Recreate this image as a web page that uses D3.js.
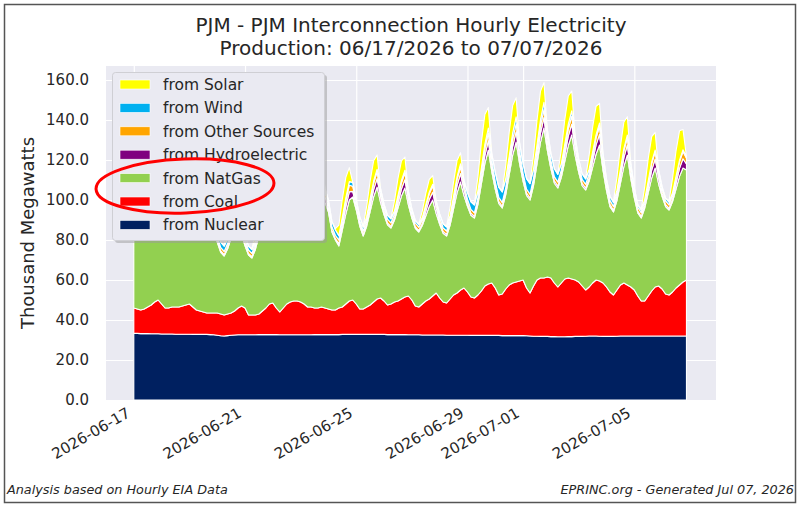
<!DOCTYPE html>
<html>
<head>
<meta charset="utf-8">
<script src="https://cdn.jsdelivr.net/npm/d3@7"></script>
<style>
body { margin: 0; background: #fff; }
text { font-family: "DejaVu Sans", sans-serif; fill: #262626; }
</style>
</head>
<body>
<svg id="chart" width="800" height="506"></svg>
<script>
// small stand-in for d3-selection-multi's .attrs()
d3.selection.prototype.attrs = function(o) {
  for (let k in o) this.attr(k, o[k])
  return this
}

// 3-hourly readings, 06/17 00:00 to 07/06 21:00, thousand MW (one row per day)
let nuclear = [
  33.3,33.3,33.2,33.2,33.2,33.1,33.1,33.1,
  33.0,33.0,33.0,33.0,32.9,32.9,32.9,32.9,
  32.9,32.8,32.8,32.8,32.8,32.8,32.7,32.6,
  32.4,32.1,32.0,32.2,32.4,32.5,32.6,32.6,
  32.6,32.6,32.6,32.6,32.7,32.7,32.7,32.7,
  32.7,32.7,32.6,32.6,32.6,32.6,32.6,32.6,
  32.6,32.6,32.6,32.6,32.7,32.7,32.7,32.7,
  32.7,32.7,32.7,32.7,32.8,32.8,32.8,32.8,
  32.8,32.8,32.8,32.8,32.8,32.8,32.8,32.8,
  32.8,32.7,32.7,32.7,32.7,32.7,32.7,32.6,
  32.6,32.6,32.6,32.5,32.5,32.5,32.5,32.5,
  32.5,32.5,32.4,32.4,32.4,32.4,32.4,32.4,
  32.4,32.3,32.3,32.3,32.3,32.3,32.3,32.3,
  32.3,32.3,32.2,32.2,32.2,32.2,32.2,32.2,
  32.2,32.1,32.0,31.9,31.9,31.8,31.8,31.8,
  31.7,31.7,31.6,31.6,31.6,31.7,31.7,31.8,
  31.8,31.8,31.9,32.0,32.0,32.0,31.9,31.8,
  31.8,31.8,31.8,31.9,32.0,32.0,32.0,32.0,
  32.0,32.0,32.0,32.0,32.0,32.0,32.0,32.0,
  32.0,32.0,32.0,32.0,32.0,32.0,32.0,32.0
]
let coal = [
  12.7,12.2,11.8,12.3,13.3,14.4,15.9,16.9,
  15.0,13.0,13.0,13.5,13.6,13.6,14.1,14.6,
  15.1,13.7,12.2,11.7,11.2,10.7,10.8,10.9,
  11.1,10.9,10.5,10.8,11.1,12.0,13.4,14.4,
  13.4,9.9,9.9,9.9,10.3,11.8,13.3,15.3,
  15.8,13.3,11.4,13.4,15.4,16.4,16.9,16.9,
  16.4,15.4,13.9,13.9,13.3,13.3,13.8,13.3,
  12.8,12.3,12.3,13.3,13.7,15.2,16.7,17.2,
  15.2,12.7,12.7,13.7,14.7,16.2,17.7,18.2,
  16.7,14.8,15.3,16.3,16.8,17.8,18.8,19.4,
  17.4,14.4,13.9,15.5,17.0,18.0,19.5,21.0,
  18.5,16.5,16.1,18.1,20.1,21.1,22.6,23.6,
  21.6,19.2,18.7,20.2,22.2,24.7,25.7,26.2,
  23.7,20.2,20.8,23.3,25.3,26.3,26.8,27.3,
  27.8,23.9,21.5,25.1,28.1,29.2,29.2,29.7,
  29.3,26.8,24.9,26.9,28.9,29.3,28.8,28.2,
  27.2,25.2,23.1,24.5,26.5,28.0,27.6,26.7,
  24.7,22.2,20.7,23.1,25.5,26.5,25.5,24.5,
  23.0,20.0,17.5,17.5,20.0,22.5,24.5,25.0,
  23.5,21.0,20.5,22.0,24.0,25.5,27.0,28.0
]
let natgas = [
  40.5,37.6,37.0,39.1,42.0,44.9,46.0,40.1,
  38.2,37.0,36.0,38.7,43.5,48.3,51.0,43.7,
  37.8,34.9,35.0,38.3,43.0,47.7,50.5,42.1,
  35.5,30.8,29.5,32.6,37.5,41.9,44.0,35.8,
  31.1,30.0,28.5,32.9,39.0,44.1,47.0,40.1,
  35.7,35.0,36.0,37.4,40.5,44.6,47.5,41.8,
  37.8,35.2,35.5,40.7,49.0,56.8,61.5,53.0,
  48.5,39.0,35.0,31.0,38.5,45.0,50.5,51.5,
  47.0,41.5,36.5,40.4,46.8,52.6,56.0,47.7,
  43.1,40.1,38.0,41.0,46.5,51.5,54.5,45.6,
  41.0,38.8,37.5,39.2,42.5,46.3,48.0,39.7,
  36.8,34.4,33.5,36.9,43.0,50.1,54.0,46.2,
  42.8,40.9,40.0,45.3,53.5,61.2,67.0,55.5,
  49.3,45.8,43.0,47.1,55.0,63.9,70.0,58.5,
  49.3,46.3,46.5,50.2,58.0,67.8,75.0,63.1,
  54.6,49.9,49.5,52.8,58.8,66.2,72.0,62.0,
  54.8,50.2,50.0,53.0,57.8,63.0,68.0,56.3,
  48.2,42.7,41.5,44.7,50.8,58.3,65.0,54.0,
  46.1,41.5,41.5,46.5,51.5,56.5,59.5,51.0,
  46.2,43.7,42.5,45.2,49.5,54.3,57.0,55.0
]
let hydro = [
  1.3,0.9,0.7,1.1,2.2,3.4,3.9,2.6,
  1.3,0.9,0.8,1.1,2.3,3.4,4.0,2.7,
  1.3,0.9,0.7,1.0,2.2,3.3,3.8,2.6,
  1.2,0.8,0.7,1.0,2.1,3.2,3.7,2.5,
  1.2,0.8,0.7,1.1,2.2,3.4,3.9,2.6,
  1.3,0.9,0.7,1.1,2.3,3.5,4.0,2.7,
  1.4,0.9,0.8,1.2,2.3,3.5,4.1,2.8,
  1.4,0.9,0.7,1.1,2.3,3.5,4.1,2.8,
  1.4,1.0,0.8,1.2,2.4,3.6,4.2,2.8,
  1.4,0.9,0.8,1.1,2.3,3.5,4.1,2.8,
  1.3,0.9,0.7,1.0,2.2,3.4,3.9,2.7,
  1.4,0.9,0.8,1.2,2.4,3.6,4.2,2.9,
  1.5,1.0,0.8,1.3,2.6,4.0,4.6,3.0,
  1.7,1.1,0.9,1.4,2.9,4.4,5.1,3.3,
  1.8,1.2,1.0,1.5,3.0,4.5,5.2,3.4,
  1.9,1.2,1.0,1.5,3.1,4.7,5.4,3.5,
  1.9,1.2,1.0,1.5,3.0,4.6,5.3,3.4,
  1.8,1.2,0.9,1.4,2.9,4.4,5.0,3.3,
  1.6,1.0,0.8,1.3,2.6,3.9,4.5,3.0,
  1.6,1.0,0.8,1.3,2.7,4.0,4.6,3.0
]
let other = [
  2.0,1.8,1.7,1.9,2.5,3.0,3.3,2.6,
  2.0,1.8,1.7,1.9,2.4,2.9,3.2,2.5,
  1.9,1.7,1.7,1.9,2.4,2.9,3.2,2.5,
  1.9,1.7,1.6,1.8,2.3,2.8,3.1,2.5,
  1.9,1.7,1.6,1.9,2.4,2.9,3.2,2.5,
  2.0,1.8,1.7,1.9,2.5,3.0,3.3,2.6,
  2.0,1.8,1.7,2.0,2.6,3.1,3.4,2.7,
  2.1,1.8,1.7,1.9,2.5,3.0,3.3,2.6,
  2.0,1.8,1.7,2.0,2.6,3.1,3.4,2.7,
  2.1,1.9,1.8,2.0,2.6,3.1,3.4,2.7,
  2.0,1.8,1.7,1.9,2.4,2.9,3.1,2.5,
  2.0,1.8,1.7,2.0,2.6,3.1,3.4,2.7,
  2.1,1.9,1.8,2.1,2.7,3.4,3.7,2.9,
  2.2,2.0,1.9,2.1,2.8,3.5,3.9,3.1,
  2.3,2.0,1.9,2.2,2.9,3.6,4.0,3.2,
  2.3,2.1,2.0,2.2,2.9,3.6,4.0,3.2,
  2.3,2.0,1.9,2.2,2.8,3.5,3.9,3.1,
  2.2,2.0,1.9,2.1,2.7,3.4,3.7,3.0,
  2.1,1.9,1.8,2.0,2.6,3.3,3.6,2.9,
  2.1,1.9,1.8,2.1,2.7,3.3,3.6,2.9
]
let wind = [
  1.8,2.0,2.0,1.7,1.4,1.2,1.4,1.5,
  1.8,1.9,2.0,1.6,1.3,1.2,1.3,1.6,
  2.2,2.3,2.3,2.0,1.6,1.4,1.6,1.8,
  2.4,2.6,2.6,2.2,1.8,1.6,1.8,1.9,
  1.8,2.0,1.9,1.6,1.3,1.2,1.4,1.4,
  1.4,1.5,1.6,1.3,1.1,1.0,1.1,1.2,
  1.5,1.6,1.5,1.3,1.1,1.0,1.1,1.4,
  2.4,2.6,2.7,2.2,1.8,1.6,1.8,1.9,
  1.8,2.0,1.9,1.7,1.4,1.2,1.3,1.5,
  1.8,1.9,2.0,1.6,1.3,1.2,1.4,1.4,
  1.2,1.3,1.3,1.1,0.9,0.8,0.9,1.1,
  1.8,2.0,2.0,1.7,1.4,1.3,1.5,1.9,
  3.3,3.8,3.9,3.3,2.7,2.4,2.7,3.3,
  4.6,5.0,5.2,4.4,3.6,3.2,3.6,4.2,
  4.8,5.2,5.3,4.5,3.6,3.2,3.6,3.8,
  3.6,3.9,3.8,3.2,2.7,2.4,2.7,2.8,
  2.5,2.6,2.6,2.2,1.8,1.6,1.8,1.9,
  1.8,2.0,1.9,1.7,1.3,1.2,1.3,1.4,
  1.3,1.3,1.3,1.1,0.9,0.8,0.9,1.0,
  1.2,1.3,1.3,1.1,0.9,0.8,0.9,1.0
]
let solar = [
  0,0,0.6,5.0,8.6,9.7,6.6,0,
  0,0,0.5,4.3,7.3,8.2,5.5,0,
  0,0,0.4,4.0,7.0,7.9,5.6,0,
  0,0,0.5,4.4,7.4,8.3,5.4,0,
  0,0,0.5,4.2,7.2,8.1,5.5,0,
  0,0,0.6,5.0,8.5,9.7,6.6,0,
  0,0,0.5,4.5,7.7,8.7,5.9,0,
  0,0,0.6,5.2,9.0,10.2,7.0,0,
  0,0,0.6,5.1,8.9,10.1,7.1,0,
  0,0,0.5,5.0,8.6,9.7,6.6,0,
  0,0,0.4,3.4,5.8,6.4,4.3,0,
  0,0,0.5,4.3,7.3,8.2,5.5,0,
  0,0,0.8,7.2,12.8,14.7,10.2,0,
  0,0,0.8,6.8,12.0,13.7,9.5,0,
  0,0,0.8,7.0,12.4,14.2,9.9,0,
  0,0,0.8,7.0,12.3,14.1,9.9,0,
  0,0,0.8,7.0,12.4,14.2,9.8,0,
  0,0,0.7,6.5,11.5,13.2,9.1,0,
  0,0,0.7,6.3,11.1,12.7,8.8,0,
  0,0,0.8,7.2,12.8,14.7,10.2,0
]

let seriesKeys = ["Nuclear", "Coal", "NatGas", "Hydroelectric", "Other Sources", "Wind", "Solar"]
let seriesValues = [nuclear, coal, natgas, hydro, other, wind, solar]
let seriesColors = ["#002060", "#ff0000", "#92d050", "#800080", "#ffa500", "#00b0f0", "#ffff00"]
let yTicks = [0, 20, 40, 60, 80, 100, 120, 140, 160]
let xTickLabels = ["2026-06-17", "2026-06-21", "2026-06-25", "2026-06-29", "2026-07-01", "2026-07-05"]

let times = d3.timeHour.every(3).range(new Date(2026, 5, 17, 0), new Date(2026, 6, 7, 0))
let rows = times.map((t, i) => {
  let r = {t: t}
  seriesKeys.forEach((k, j) => { r[k] = seriesValues[j][i] })
  return r
})

let L = 106, R = 716, T = 66, B = 400
let svg = d3.select("#chart")

let x = d3.scaleTime()
  .domain([new Date(2026, 5, 16, 0), new Date(2026, 6, 7, 22, 30)])
  .range([L, R])
let y = d3.scaleLinear().domain([0, 167]).range([B, T])

// outer frame
svg.append("rect").attrs({x: 4.5, y: 4.5, width: 791, height: 498, fill: "none", stroke: "#555", "stroke-width": 1.5})

svg.append("rect").attrs({x: L, y: T, width: R - L, height: B - T, fill: "#eaeaf2"})

let parseDay = d3.timeParse("%Y-%m-%d")
let xTicks = xTickLabels.map(parseDay)

let gx = svg.append("g").attr("transform", `translate(0,${B})`)
  .call(d3.axisBottom(x).tickValues(xTicks).tickSize(-(B - T)).tickFormat(d3.timeFormat("%Y-%m-%d")))
gx.select(".domain").remove()
gx.selectAll("line").attr("stroke", "#fff").attr("stroke-width", 1.2)
gx.selectAll("text")
  .attr("x", 0).attr("y", 0).attr("dy", null)
  .attr("text-anchor", "end")
  .attr("transform", "translate(-3,16) rotate(-30)")
  .attr("font-size", 15).attr("fill", "#262626")
  .style("font-family", "DejaVu Sans")

let gy = svg.append("g").attr("transform", `translate(${L},0)`)
  .call(d3.axisLeft(y).tickValues(yTicks).tickSize(-(R - L)).tickPadding(17).tickFormat(d3.format(".1f")))
gy.select(".domain").remove()
gy.selectAll("line").attr("stroke", "#fff").attr("stroke-width", 1.2)
gy.selectAll("text").attr("font-size", 15).attr("fill", "#262626").style("font-family", "DejaVu Sans")

let stacked = d3.stack().keys(seriesKeys)(rows)
let area = d3.area()
  .x(d => x(d.data.t))
  .y0(d => y(d[0]))
  .y1(d => y(d[1]))

svg.append("g").selectAll("path")
  .data(stacked).enter()
  .append("path")
  .attrs({
    d: area,
    fill: (d, i) => seriesColors[i],
    stroke: "#fff",
    "stroke-width": 1.1,
    "stroke-linejoin": "round"
  })

// title and labels
let title = svg.append("text").attrs({x: 411, "text-anchor": "middle", "font-size": 20})
title.append("tspan").attrs({x: 411, y: 32}).text("PJM - PJM Interconnection Hourly Electricity")
title.append("tspan").attrs({x: 411, y: 55}).text("Production: 06/17/2026 to 07/07/2026")

svg.append("text")
  .attrs({transform: "translate(34,233) rotate(-90)", "text-anchor": "middle", "font-size": 18})
  .text("Thousand Megawatts")

svg.append("text").attrs({x: 7, y: 494, "font-size": 12.8, "font-style": "italic"})
  .text("Analysis based on Hourly EIA Data")
svg.append("text").attrs({x: 794, y: 494, "font-size": 12.8, "font-style": "italic", "text-anchor": "end"})
  .text("EPRINC.org - Generated Jul 07, 2026")

// legend, top entry first
let legend = svg.append("g")
legend.append("rect").attrs({x: 115, y: 75, width: 212, height: 168, rx: 3, fill: "#999", opacity: 0.5})
legend.append("rect").attrs({x: 112.5, y: 72.5, width: 212, height: 168, rx: 3, fill: "#eaeaf2", stroke: "#cfcfd4", "stroke-width": 1})
let legendItems = seriesKeys.map((k, i) => ({key: k, color: seriesColors[i]})).reverse()
let li = legend.selectAll("g.item").data(legendItems).enter()
  .append("g").attr("class", "item")
  .attr("transform", (d, i) => `translate(0,${84.5 + i * 23.4})`)
li.append("rect").attrs({x: 120, y: -4.5, width: 30, height: 9, fill: d => d.color, stroke: "#fff", "stroke-width": 0.6})
li.append("text").attrs({x: 163, y: 0, dy: "0.35em", "font-size": 15.5}).text(d => "from " + d.key)

// hand-drawn highlight around NatGas / Coal
svg.append("ellipse")
  .attrs({cx: 0, cy: 0, rx: 89, ry: 27, fill: "none", stroke: "#f00", "stroke-width": 3,
          transform: "translate(185,186) rotate(-2)"})
</script>
</body>
</html>
